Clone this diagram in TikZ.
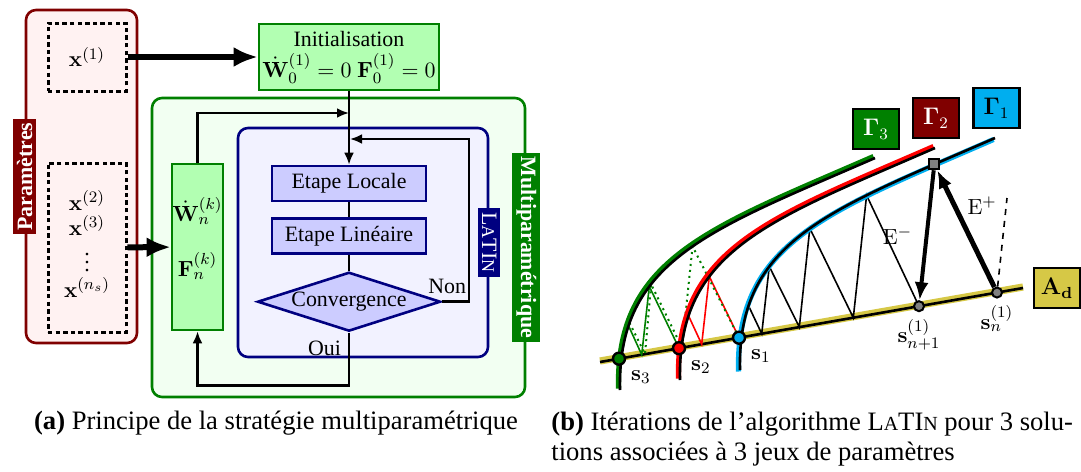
\documentclass[tikz,border=0pt]{standalone}
\usepackage[no-math]{fontspec}
\setmainfont{Liberation Serif}
\usetikzlibrary{positioning, fit, shapes.geometric, arrows.meta}

\colorlet{parambord}{red!50!black}
\colorlet{paramfill}{red!5}
\colorlet{multibord}{green!50!black}
\colorlet{multifill}{green!5}
\colorlet{initfill}{green!30}
\colorlet{latinbord}{blue!50!black}
\colorlet{latinfill}{blue!5}
\colorlet{stepfill}{blue!20}
\definecolor{gcyan}{RGB}{0,174,239}
\definecolor{gred}{RGB}{255,0,0}
\colorlet{ggreen}{green!50!black}
\colorlet{gdred}{red!50!black}
\definecolor{adyellow}{RGB}{214,200,70}

\newcommand\figfont{\fontsize{10.95}{13.6}\selectfont}
\newcommand\capfont{\fontsize{13.3}{14.6}\selectfont}
\newcommand\tightvdots{\vbox{\baselineskip4pt\lineskiplimit0pt\hbox{.}\hbox{.}\hbox{.}}}
\newcommand\gammacurve{(740,370) .. controls (737,240) and (830,210) .. (995,138)}

\tikzset{
	panel/.style={rounded corners=5pt, line width=1.3pt, inner sep=0pt},
	tag/.style={text=white, font=\figfont\bfseries, inner sep=2pt},
	dotbox/.style={draw, line width=1.5pt, dash pattern=on 2.2pt off 1.6pt, inner sep=0pt},
	greenbox/.style={draw=multibord, fill=initfill, line width=1.3pt},
	stepbox/.style={draw=latinbord, fill=stepfill, line width=1.3pt, minimum width=77pt, minimum height=17.5pt, inner sep=0pt},
	flow/.style={line width=1.3pt, -{Latex[length=6pt,width=5pt]}},
	bigarrow/.style={line width=3pt, -{Latex[length=12pt,width=10pt]}},
	zig/.style={line width=0.8pt},
	spt/.style={circle, draw, line width=1.2pt, minimum size=6pt, inner sep=0pt},
	gpt/.style={circle, draw, fill=gray, line width=1pt, minimum size=5pt, inner sep=0pt},
	earrow/.style={-{Latex[length=9pt,width=7pt]}},
	gtag/.style={draw, line width=1.3pt, minimum width=23pt, minimum height=20pt, inner sep=1pt, font=\large},
}

\begin{document}
\begin{tikzpicture}[x=0.5pt, y=-0.5pt, font=\figfont]
	\useasboundingbox (0,0) rectangle (1081,471);

	% (a) multiparametric strategy
	\node[panel, draw=parambord, fill=paramfill, fit={(26,10) (137,343)}] (params) {};
	\node[tag, fill=parambord, rotate=90] (paramtag) at (params.west) {Paramètres};
	\node[dotbox, fit={(48,23) (126,91)}] (set1) {};
	\node[dotbox, fit={(48,163) (126,332)}] (set2) {};
	\node at (set1) {$\mathbf{x}^{(1)}$};
	\node[anchor=base, inner sep=0pt] (x2) at (87,210) {$\mathbf{x}^{(2)}$};
	\node[anchor=base, inner sep=0pt] (x3) at (87,235) {$\mathbf{x}^{(3)}$};
	\node[anchor=base, inner sep=0pt] (xdots) at (87,271) {\tightvdots};
	\node[anchor=base, inner sep=0pt] (xns) at (87,297) {$\mathbf{x}^{(n_s)}$};

	\node[panel, draw=multibord, fill=multifill, fit={(152,98) (525,397)}] (multi) {};
	\node[tag, fill=multibord, rotate=-90] (multitag) at (multi.east) {Multiparamétrique};
	\node[panel, draw=latinbord, fill=latinfill, fit={(238,128) (488,357)}] (latin) {};
	\node[tag, fill=latinbord, rotate=-90, font=\figfont] (latintag) at (latin.east) {L{\small A}TI{\small N}};

	\node[greenbox, minimum width=90pt, minimum height=33pt, inner sep=1pt, align=center] (init) at (349,57)
		{Initialisation\\[2pt]$\dot{\mathbf{W}}_0^{(1)}=0\ \mathbf{F}_0^{(1)}=0$};
	\node[greenbox, fit={(172,164) (223,330)}, inner sep=0pt] (wf) {};
	\node (wdot) at (197.5,211) {$\dot{\mathbf{W}}_n^{(k)}$};
	\node (fn) at (197.5,266) {$\mathbf{F}_n^{(k)}$};

	\node[stepbox] (local) at (349,183.5) {Etape Locale};
	\node[stepbox, below=7.5pt of local] (lin) {Etape Linéaire};
	\node[stepbox, diamond, aspect=3.1, minimum width=91.5pt, minimum height=29.5pt, below=8pt of lin] (conv) {Convergence};

	\coordinate (jn) at (349,113);
	\coordinate (bk) at (350,139);

	\draw[bigarrow] (set1) -- (init);
	\draw[bigarrow] (set2) -- (wf);
	\draw[flow] (init) -- (local);
	\draw[flow] (wf) |- (jn);
	\draw[line width=1.3pt] (local) -- (lin);
	\draw[line width=1.3pt] (lin) -- (conv);
	\draw[flow] (conv.east) -- node[above, pos=0.2] {Non} ++(27,0) |- (bk);
	\draw[flow] (conv.south) -- node[left, pos=0.3] {Oui} ++(0,53) -| (wf);

	% (b) LATIN iterations
	\draw[adyellow, line width=3.6pt] (600,361) -- (1023,287);
	\draw[line width=1.3pt] (600,362) -- (1023,288)
		coordinate[pos=0.0449] (p3) coordinate[pos=0.1868] (p2) coordinate[pos=0.3286] (p1)
		coordinate[pos=0.7541] (pn1) coordinate[pos=0.9385] (pn)
		coordinate[pos=0.3823] (q3) coordinate[pos=0.4712] (q4) coordinate[pos=0.5988] (q5)
		coordinate[pos=0.2404] (r1) coordinate[pos=0.0986] (v1)
		coordinate[pos=0.1939] (w1) coordinate[pos=0.1064] (w2);

	\foreach \g/\dx/\dy in {1/0/0, 2/-60/10, 3/-120/20}
		\path[shift={(\dx,\dy)}] \gammacurve
			coordinate[pos=0.19] (g\g a) coordinate[pos=0.34] (g\g b) coordinate[pos=0.52] (g\g c)
			coordinate[pos=0.7] (g\g d) coordinate[pos=0.87] (g\g e) coordinate[pos=0.53] (g\g f)
			coordinate[pos=0.35] (g\g p) coordinate[pos=0.2] (g\g q);

	\draw[zig] (pn1) -- (g1d) -- (q5) -- (g1c) -- (q4) -- (g1b) -- (q3) -- (g1a);
	\draw[zig, gred] (p1) -- (g2b) -- (r1) -- (g2a);
	\draw[zig, ggreen] (p2) -- (g3b) -- (v1) -- (g3a);
	\draw[ggreen, dotted, line width=1pt] (p1) -- (g3f) -- (w1) -- (g3p) -- (w2) -- (g3q);

	\foreach \g/\dx/\dy/\col/\ox/\oy in {1/0/0/gcyan/-1.5/1.5, 2/-60/10/gred/-1.5/-1.5, 3/-120/20/ggreen/-1.5/-1.5}{
		\draw[\col, line width=2.6pt, shift={(\dx+\ox,\dy+\oy)}] \gammacurve;
		\draw[line width=1.3pt, shift={(\dx,\dy)}] \gammacurve;
	}

	\node[spt, fill=gcyan, label={-45:$\mathbf{s}_1$}] (s1) at (p1) {};
	\node[spt, fill=gred, label={-45:$\mathbf{s}_2$}] (s2) at (p2) {};
	\node[spt, fill=ggreen, label={-45:$\mathbf{s}_3$}] (s3) at (p3) {};
	\node[gpt, label={below:$\mathbf{s}_{n+1}^{(1)}$}] (sn1) at (pn1) {};
	\node[gpt, label={below:$\mathbf{s}_{n}^{(1)}$}] (sn) at (pn) {};
	\node[gpt, rectangle] (sq) at (g1e) {};
	\coordinate (dtop) at (1007,198);

	\draw[earrow, line width=2pt] (sq) -- node[left=3pt] {$\mathrm{E}^-$} (sn1);
	\draw[earrow, line width=2.5pt] (sn) -- node[right=2pt, pos=0.7] {$\mathrm{E}^+$} (sq);
	\draw[dashed, line width=0.8pt] (sn) -- (dtop);

	\node[gtag, fill=ggreen, text=white] (t3) at (876,129) {$\mathbf{\Gamma}_3$};
	\node[gtag, fill=gdred, text=white] (t2) at (936,118) {$\mathbf{\Gamma}_2$};
	\node[gtag, fill=gcyan] (t1) at (996.5,108) {$\mathbf{\Gamma}_1$};
	\node[gtag, fill=adyellow] (tad) at (1057,288) {$\mathbf{A_d}$};

	% captions
	\node[font=\capfont] (capa) at (276,423) {\textbf{(a)} Principe de la stratégie multiparamétrique};
	\node[font=\capfont, align=left, anchor=north west, inner sep=0pt] (capb) at (551,412)
		{\textbf{(b)} Itérations de l'algorithme L{\normalsize A}TI{\normalsize N} pour 3 solu-\\tions associées à 3 jeux de paramètres};
\end{tikzpicture}
\end{document}
